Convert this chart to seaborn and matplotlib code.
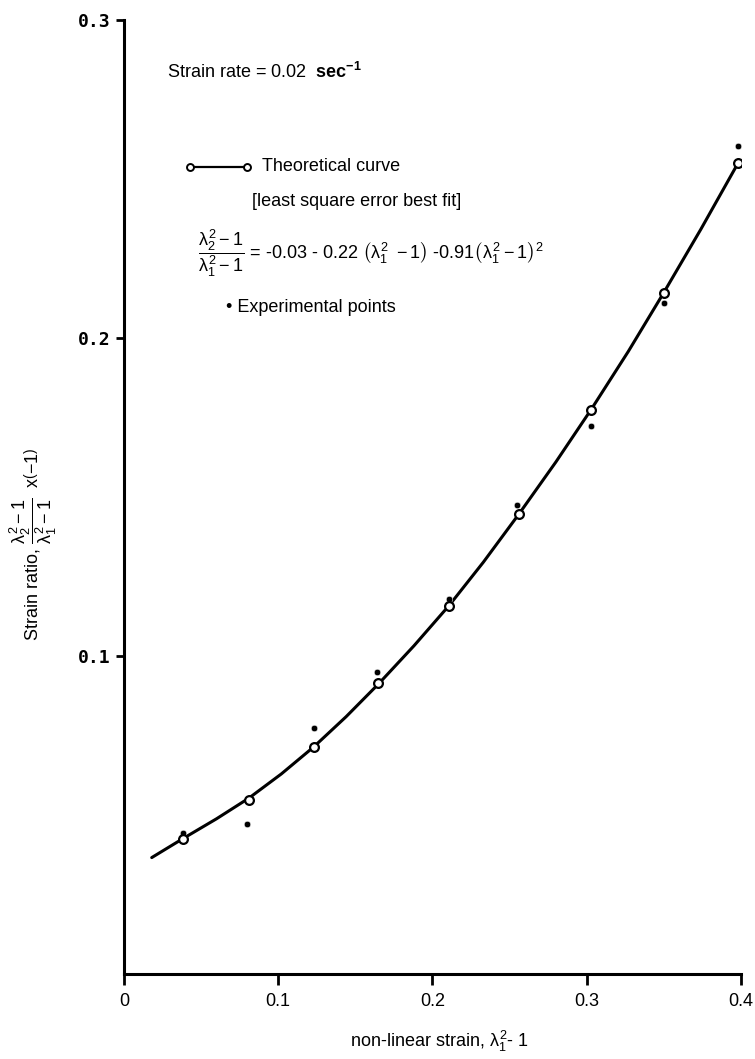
import numpy as np
import pandas as pd
import seaborn as sns
import matplotlib.pyplot as plt
from matplotlib.lines import Line2D

# theoretical curve, open circles lie on it
curve_x = [0.018, 0.038, 0.060, 0.081, 0.102, 0.123, 0.144, 0.165, 0.188,
           0.211, 0.233, 0.256, 0.280, 0.303, 0.327, 0.350, 0.374, 0.398]
curve_y = [0.0366, 0.0425, 0.0488, 0.0553, 0.0629, 0.0714, 0.0809, 0.0912, 0.1032,
           0.1160, 0.1295, 0.1446, 0.1610, 0.1776, 0.1958, 0.2143, 0.2342, 0.2549]

theo_x = [0.038, 0.081, 0.123, 0.165, 0.211, 0.256, 0.303, 0.350, 0.398]
theo_y = [0.0424, 0.0547, 0.0714, 0.0915, 0.1158, 0.1447, 0.1775, 0.2142, 0.2549]

exp_x = [0.038, 0.080, 0.123, 0.164, 0.211, 0.255, 0.303, 0.350, 0.398]
exp_y = [0.0444, 0.0473, 0.0775, 0.0951, 0.1178, 0.1475, 0.1724, 0.2111, 0.2604]

x_ticks = [0, 0.1, 0.2, 0.3, 0.4]
x_labels = ["0", "0.1", "0.2", "0.3", "0.4"]
y_ticks = [0.1, 0.2, 0.3]
y_labels = ["0.1", "0.2", "0.3"]

sns.set_style("ticks")
fam = ["Liberation Sans", "DejaVu Sans"]
plt.rcParams["font.family"] = fam
plt.rcParams["text.color"] = "black"
plt.rcParams["axes.labelcolor"] = "black"
plt.rcParams["xtick.color"] = "black"
plt.rcParams["ytick.color"] = "black"
plt.rcParams["axes.edgecolor"] = "black"
plt.rcParams["mathtext.fontset"] = "custom"
plt.rcParams["mathtext.rm"] = "Liberation Sans"
plt.rcParams["mathtext.it"] = "Liberation Sans"
plt.rcParams["mathtext.bf"] = "Liberation Sans:bold"

df_curve = pd.DataFrame({"x": curve_x, "y": curve_y})
df_theo = pd.DataFrame({"x": theo_x, "y": theo_y})
df_exp = pd.DataFrame({"x": exp_x, "y": exp_y})

fig = plt.figure(figsize=(7.55, 10.59), dpi=100)
ax = fig.add_axes([0.1642, 0.0803, 0.8172, 0.9008])

sns.lineplot(data=df_curve, x="x", y="y", ax=ax, color="black", lw=2.2, sort=True)
sns.scatterplot(data=df_exp, x="x", y="y", ax=ax, color="black", s=22, zorder=3)
sns.scatterplot(data=df_theo, x="x", y="y", ax=ax, facecolor="white", edgecolor="black",
                linewidth=1.6, s=40, zorder=4)

ax.set_xlim(0, 0.4)
ax.set_ylim(0, 0.3)
ax.set_xticks(x_ticks)
ax.set_xticklabels(x_labels, fontsize=13)
ax.set_yticks(y_ticks)
ax.set_yticklabels(y_labels, fontsize=13, fontweight="bold", family="DejaVu Sans Mono")
ax.tick_params(axis="x", direction="out", length=8, width=2, pad=6)
ax.tick_params(axis="y", direction="out", length=6, width=2, pad=4)
for s in ["left", "bottom"]:
    ax.spines[s].set_linewidth(2.2)
sns.despine(ax=ax)

ax.set_xlabel(r"non-linear strain, $\lambda_1^2$- 1", fontsize=13)
ax.xaxis.set_label_coords(0.512, -0.058)
ax.set_ylabel(r"Strain ratio, $\dfrac{\lambda_2^2-1}{\lambda_1^2-1}$  x$\left(-1\right)$",
              fontsize=13)
ax.yaxis.set_label_coords(-0.105, 0.45)

# annotations
ax.text(0.0280, 0.2836, r"Strain rate = 0.02  $\mathbf{sec^{-1}}$", fontsize=13, va="center")

ax.add_line(Line2D([0.107, 0.199], [0.846, 0.846], transform=ax.transAxes,
                   color="black", lw=1.6, marker="o", markersize=5,
                   markerfacecolor="white", markeredgewidth=1.4))
ax.text(0.0895, 0.2538, "Theoretical curve", fontsize=13, va="center")
ax.text(0.0830, 0.2428, "[least square error best fit]", fontsize=13, va="center")
ax.text(0.0480, 0.2267,
        r"$\dfrac{\lambda_2^2-1}{\lambda_1^2-1}$ = -0.03 - 0.22 $\left(\lambda_1^2\ -1\right)$"
        r" -0.91$\left(\lambda_1^2-1\right)^2$",
        fontsize=13, va="center")
ax.text(0.0660, 0.2097, "\u2022 Experimental points", fontsize=13, va="center")

fig.savefig("out.png", dpi=100)
